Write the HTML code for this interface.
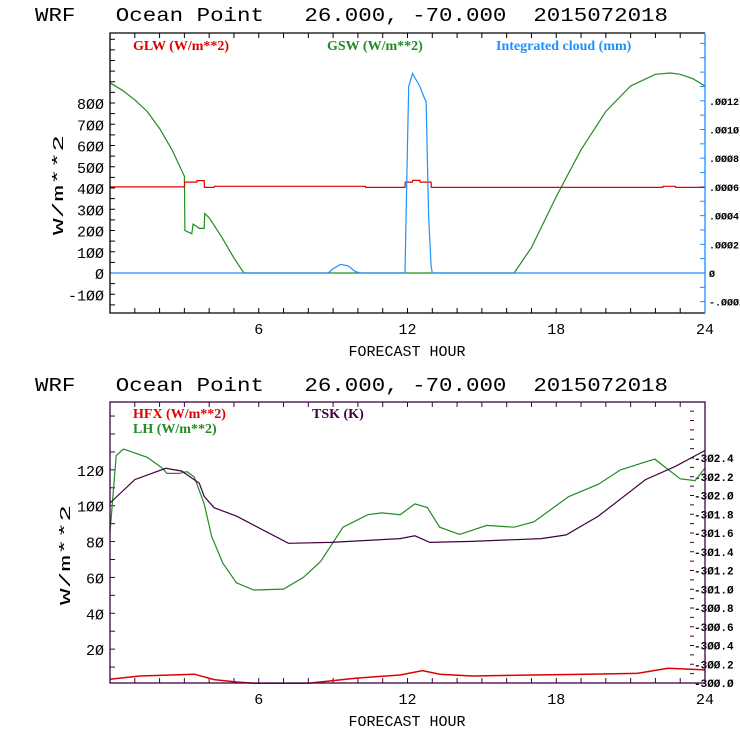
<!DOCTYPE html>
<html><head><meta charset="utf-8"><style>
html,body{margin:0;padding:0;background:#fff;}
svg{display:block;}
text{font-family:"Liberation Mono",monospace;}
.t{font-size:19px;fill:#000;white-space:pre;}
.tk{font-size:15px;fill:#000;}
.rt{font-size:10px;font-weight:bold;fill:#000;}
.rb{font-size:11px;font-weight:bold;fill:#000;}
.lg{font-family:"Liberation Serif",serif;font-size:14px;font-weight:bold;}
</style></head><body>
<svg id="svg" width="740" height="740" viewBox="0 0 740 740">
<g id="topPanel"></g>
<g id="botPanel"></g>
</svg>
<script>
// ---- Top panel data ----
const gswHours=[0,0.5,1,1.5,2,2.5,3,3.02,3.3,3.35,3.6,3.8,3.82,4,4.5,5,5.4,16.3,17,18,19,20,21,22,22.6,23,23.5,24];
const gswVals=[895,860,815,760,680,580,455,200,185,230,210,210,280,260,170,70,0,0,120,360,580,760,880,935,941,935,915,880];
const glwHours=[0,3.0,3.01,3.5,3.51,3.8,3.81,4.2,4.21,10.3,10.31,11.9,11.91,12.2,12.21,12.5,12.51,12.95,12.96,22.3,22.31,22.8,22.81,24];
const glwVals=[405,405,428,428,435,435,403,403,408,408,403,403,428,428,436,436,428,428,403,403,408,408,403,403];
const cloudHours=[0,8.8,9.0,9.3,9.6,9.9,10.1,11.9,12.0,12.05,12.2,12.5,12.7,12.75,12.85,12.95,13.0,24];
const cloudVals=[0,0,0.00003,0.00006,0.00005,0.00001,0,0,0.0009,0.0013,0.00139,0.0013,0.00121,0.0012,0.0004,0.00005,0,0];
const topLeftTicks=[-100,0,100,200,300,400,500,600,700,800];
const topRightTicks=[-0.0002,0,0.0002,0.0004,0.0006,0.0008,0.0010,0.0012];
const topRightLabels=["-.0002","0",".0002",".0004",".0006",".0008",".0010",".0012"];
const xTicks=[6,12,18,24];
// ---- Bottom panel data ----
const lhHours=[0,0.25,0.54,1.5,2.1,2.3,2.8,3.1,3.4,3.8,4.1,4.55,5.1,5.8,7,7.8,8.5,9.4,10.4,10.97,11.7,12.3,12.8,13.3,14.1,15.2,16.3,17.1,18.5,19.7,20.6,21.97,23,23.6,24];
const lhVals=[85,128,131.6,127,121,118,118,119,116,101,83,68,57,53,53.5,60,69,88,95,96,95,101,99,88,84,89,88,91,105,112,120,126,115,114,121];
const tskHours=[0,1,2.25,2.9,3.6,3.8,4.2,5.1,7.2,8.9,11.7,12.3,12.9,14.6,17.4,18.4,19.7,21.6,22.8,24];
const tskVals=[301.92,302.17,302.29,302.26,302.13,301.99,301.87,301.78,301.49,301.50,301.54,301.57,301.50,301.51,301.54,301.58,301.78,302.17,302.31,302.48];
const hfxHours=[0,1.2,3.4,4.2,5.1,5.8,8,9.9,11.7,12.6,13.3,14.6,19.2,21.3,22.5,24];
const hfxVals=[3.2,5.0,6,3,1.7,1,1,3.8,5.6,8,6,5,6,6.5,9.3,8.4];
const botLeftTicks=[20,40,60,80,100,120];
const botRightTicks=[300.0,300.2,300.4,300.6,300.8,301.0,301.2,301.4,301.6,301.8,302.0,302.2,302.4];

const NS="http://www.w3.org/2000/svg";
function mk(parent,tag,attrs,txt){const el=document.createElementNS(NS,tag);for(const k in attrs)el.setAttribute(k,attrs[k]);if(txt!==undefined)el.textContent=txt;parent.appendChild(el);return el;}
const X0=110,X1=705;
const xs=h=>X0+(X1-X0)*h/24;
function pathD(hs,vs,yf){return hs.map((h,i)=>(i?'L':'M')+xs(h).toFixed(1)+','+yf(vs[i]).toFixed(1)).join('');}
const TITLE='WRF   Ocean Point   26.000, -70.000  2015072018';

// ===== TOP =====
const topG=document.getElementById('topPanel');
const yT=v=>273-v*0.2125;
const yTR=v=>273-v/0.0002*28.7;
let e;
e=mk(topG,'text',{x:35,y:21,class:'t',textLength:633,lengthAdjust:'spacingAndGlyphs'},TITLE);


for(let h=0;h<=24;h++){mk(topG,'line',{x1:xs(h),x2:xs(h),y1:313,y2:308,stroke:'#000'});mk(topG,'line',{x1:xs(h),x2:xs(h),y1:33,y2:38,stroke:'#000'});}
for(let v=-150;v<=1100;v+=50){const y=yT(v);if(y<33||y>313)continue;mk(topG,'line',{x1:110,x2:115,y1:y,y2:y,stroke:'#000'});}
for(let i=-3;i<=16;i++){const y=yTR(i*0.0001);if(y<34||y>312)continue;mk(topG,'line',{x1:705,x2:700,y1:y,y2:y,stroke:'#1e90ff'});}
topLeftTicks.forEach(v=>{e=mk(topG,'text',{x:104,y:yT(v)+6,class:'tk','text-anchor':'end'},String(v).replace(/0/g,'Ø'));

});
topRightTicks.forEach((v,i)=>{e=mk(topG,'text',{x:709,y:yTR(v)+4,class:'rt'},topRightLabels[i].replace(/0/g,'Ø'));

});
xTicks.forEach(h=>{e=mk(topG,'text',{x:xs(h),y:334,class:'tk','text-anchor':'middle','font-size':'16'},String(h));

});
e=mk(topG,'text',{x:407,y:356,class:'tk','text-anchor':'middle','font-size':'16'},'FORECAST HOUR');


e=mk(topG,'text',{x:0,y:0,class:'tk','text-anchor':'middle','font-size':'20',textLength:100,lengthAdjust:'spacingAndGlyphs',transform:'translate(63,185) rotate(-90)'},'W/m**2');


e=mk(topG,'path',{d:pathD(gswHours,gswVals,yT),fill:'none',stroke:'#228b22','stroke-width':1.2});


e=mk(topG,'path',{d:pathD(glwHours,glwVals,yT),fill:'none',stroke:'#e00000','stroke-width':1.2});


e=mk(topG,'path',{d:pathD(cloudHours,cloudVals,yTR),fill:'none',stroke:'#1e90ff','stroke-width':1.2});


mk(topG,'path',{d:'M705,33 L110,33 L110,313 L705,313',fill:'none',stroke:'#000','stroke-width':1.3});
mk(topG,'line',{x1:705,x2:705,y1:33,y2:313,stroke:'#1e90ff','stroke-width':1.3});
e=mk(topG,'text',{x:133,y:50,class:'lg',fill:'#e00000'},'GLW (W/m**2)');


e=mk(topG,'text',{x:327,y:50,class:'lg',fill:'#228b22'},'GSW (W/m**2)');


e=mk(topG,'text',{x:496,y:50,class:'lg',fill:'#1e90ff'},'Integrated cloud (mm)');



// ===== BOTTOM =====
const botG=document.getElementById('botPanel');
const yB=v=>685-v*1.793;
const yBR=k=>683-(k-300)/0.2*18.75;
const PU='#400040';
e=mk(botG,'text',{x:35,y:391,class:'t',textLength:633,lengthAdjust:'spacingAndGlyphs'},TITLE);


for(let h=0;h<=24;h++){mk(botG,'line',{x1:xs(h),x2:xs(h),y1:683,y2:678,stroke:PU});mk(botG,'line',{x1:xs(h),x2:xs(h),y1:402,y2:407,stroke:PU});}
for(let v=10;v<=150;v+=10){const y=yB(v);if(y<403)continue;mk(botG,'line',{x1:110,x2:115,y1:y,y2:y,stroke:PU});}
for(let i=1;i<=30;i++){const y=yBR(300+i*0.1);if(y<405)continue;mk(botG,'line',{x1:690,x2:694,y1:y,y2:y,stroke:PU});}
botLeftTicks.forEach(v=>{e=mk(botG,'text',{x:104,y:yB(v)+6,class:'tk','text-anchor':'end'},String(v).replace(/0/g,'Ø'));

});
botRightTicks.forEach(k=>{e=mk(botG,'text',{x:694,y:yBR(k)+4,class:'rb'},'-'+k.toFixed(1).replace(/0/g,'Ø'));

});
xTicks.forEach(h=>{e=mk(botG,'text',{x:xs(h),y:704,class:'tk','text-anchor':'middle','font-size':'16'},String(h));

});
e=mk(botG,'text',{x:407,y:726,class:'tk','text-anchor':'middle','font-size':'16'},'FORECAST HOUR');


e=mk(botG,'text',{x:0,y:0,class:'tk','text-anchor':'middle','font-size':'20',textLength:100,lengthAdjust:'spacingAndGlyphs',transform:'translate(70,555) rotate(-90)'},'W/m**2');


e=mk(botG,'path',{d:pathD(lhHours,lhVals,yB),fill:'none',stroke:'#228b22','stroke-width':1.2});


e=mk(botG,'path',{d:pathD(tskHours,tskVals,yBR),fill:'none',stroke:PU,'stroke-width':1.2});


e=mk(botG,'path',{d:pathD(hfxHours,hfxVals,yB),fill:'none',stroke:'#e00000','stroke-width':1.5});


mk(botG,'rect',{x:110,y:402,width:595,height:281,fill:'none',stroke:PU,'stroke-width':1.3});
e=mk(botG,'text',{x:133,y:418,class:'lg',fill:'#e00000'},'HFX (W/m**2)');


e=mk(botG,'text',{x:133,y:433,class:'lg',fill:'#228b22'},'LH  (W/m**2)');


e=mk(botG,'text',{x:312,y:418,class:'lg',fill:PU},'TSK (K)');


</script>
</body></html>
